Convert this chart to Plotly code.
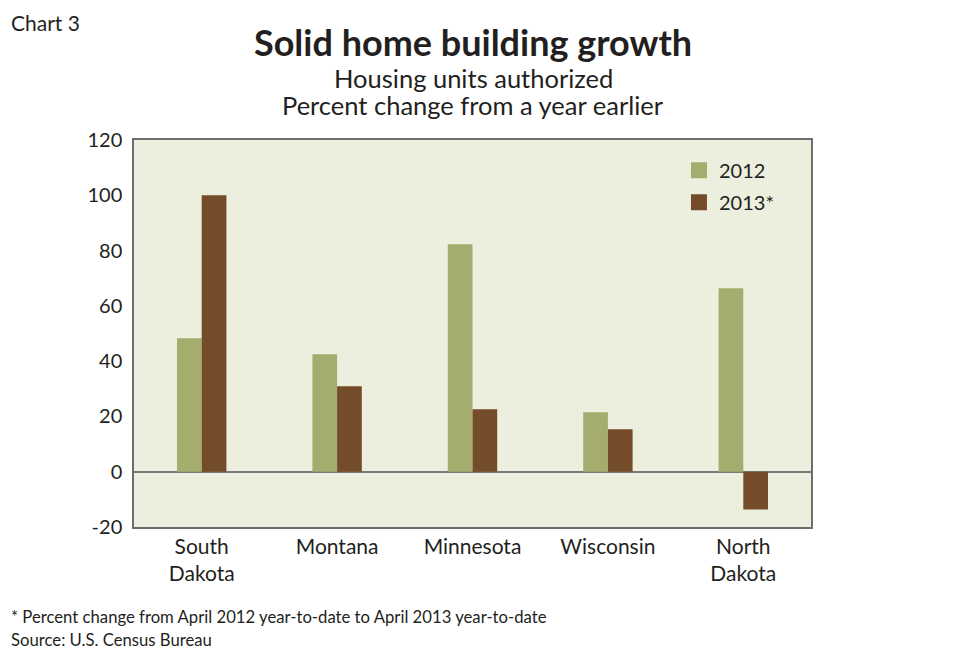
import plotly.graph_objects as go

states = ["South<br>Dakota", "Montana", "Minnesota", "Wisconsin", "North<br>Dakota"]
v2012 = [48.3, 42.5, 82.3, 21.5, 66.4]
v2013 = [100.0, 30.9, 22.6, 15.4, -13.7]
series_names = ["2012", "2013*"]
colors = ["#A4AD6D", "#754C29"]
yticks = [-20, 0, 20, 40, 60, 80, 100, 120]
yticktext = ["-20", "0", "20", "40", "60", "80", "100", "120"]

FONT = "Lato"
TXT = "#231F20"

fig = go.Figure()
for name, vals, c in zip(series_names, [v2012, v2013], colors):
    fig.add_trace(go.Bar(x=states, y=vals, name=name, marker_color=c,
                         marker_line_width=0, showlegend=False))
# legend proxies (larger square symbols)
for i, (name, c) in enumerate(zip(series_names, colors)):
    fig.add_trace(go.Scatter(x=[None], y=[None], mode="markers", name=name,
                             legendgroup=f"g{i}",
                             marker=dict(symbol="square", size=16, color=c)))

W, H = 953, 660
pl, pr, pt, pb = 134, 142, 140, 133
pw, ph = W - pl - pr, H - pt - pb

anns = [
    dict(text="Chart 3", x=9, y=22, size=21, anchor="left"),
    dict(text="<b>Solid home building growth</b>", x=473, y=42, size=36, anchor="center"),
    dict(text="Housing units authorized", x=473, y=78, size=25.5, anchor="center"),
    dict(text="Percent change from a year earlier", x=473, y=105, size=25.5, anchor="center"),
    dict(text="* Percent change from April 2012 year-to-date to April 2013 year-to-date", x=9, y=617, size=16.7, anchor="left"),
    dict(text="Source: U.S. Census Bureau", x=9, y=640, size=16.7, anchor="left"),
]
annotations = []
for a in anns:
    annotations.append(dict(
        text=a["text"], xref="paper", yref="paper",
        x=(a["x"] - pl) / pw, y=1 - (a["y"] - pt) / ph,
        xanchor=a["anchor"], yanchor="middle", showarrow=False,
        font=dict(size=a["size"], color=TXT, family=FONT)))

fig.update_layout(
    width=W, height=H,
    margin=dict(l=pl, r=pr, t=pt, b=pb),
    paper_bgcolor="white",
    plot_bgcolor="#EDEFDE",
    barmode="group",
    bargap=0.635,
    bargroupgap=0,
    font=dict(family=FONT, color=TXT, size=19),
    legend=dict(x=0.805, y=0.972, xanchor="left", yanchor="top",
                bgcolor="rgba(0,0,0,0)", font=dict(size=20, color=TXT),
                traceorder="grouped", tracegroupgap=3, itemsizing="trace"),
    xaxis=dict(showline=True, linecolor="#6E6E6E", linewidth=1.5, mirror=True,
               ticks="", tickfont=dict(size=21, color=TXT), showgrid=False),
    yaxis=dict(range=[-20, 120], tickvals=yticks, ticktext=yticktext, showgrid=False,
               showline=True, linecolor="#6E6E6E", linewidth=1.5, mirror=True,
               zeroline=True, zerolinecolor="#7A7A7A", zerolinewidth=1.5,
               ticks="", ticklabelstandoff=6,
               tickfont=dict(size=20, color=TXT)),
    annotations=annotations,
)

fig.write_html("out.html")
